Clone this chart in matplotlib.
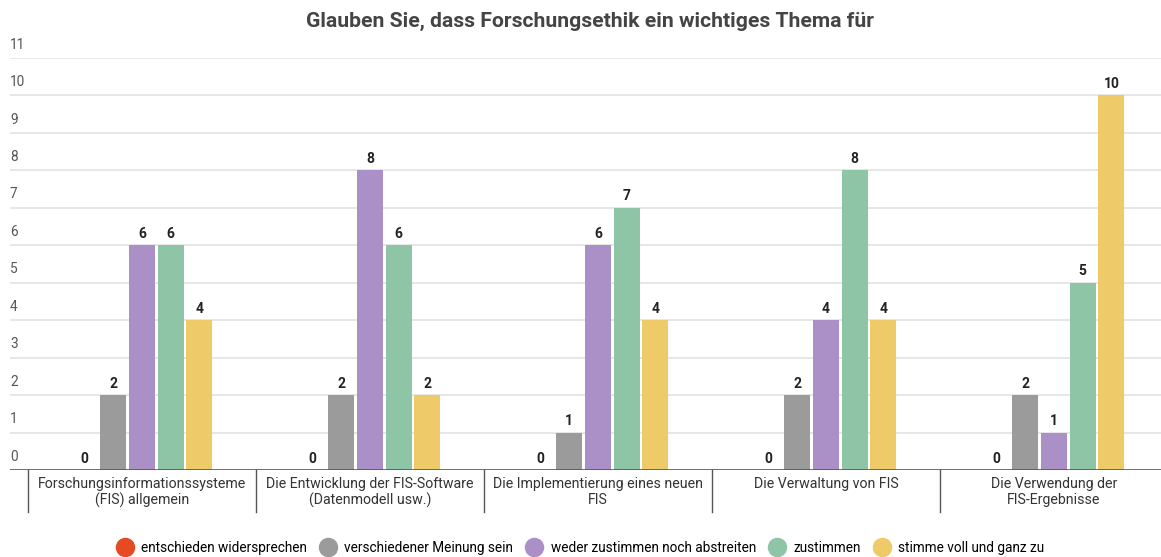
import matplotlib.pyplot as plt
import numpy as np
from matplotlib.lines import Line2D

plt.rcParams['font.family'] = ['Roboto', 'DejaVu Sans']

# Daten
categories = [
    "Forschungsinformationssysteme\n(FIS) allgemein",
    "Die Entwicklung der FIS-Software\n(Datenmodell usw.)",
    "Die Implementierung eines neuen\nFIS",
    "Die Verwaltung von FIS",
    "Die Verwendung der\nFIS-Ergebnisse",
]
series_names = [
    "entschieden widersprechen",
    "verschiedener Meinung sein",
    "weder zustimmen noch abstreiten",
    "zustimmen",
    "stimme voll und ganz zu",
]
entschieden = [0, 0, 0, 0, 0]
verschieden = [2, 2, 1, 2, 2]
weder = [6, 8, 6, 4, 1]
zustimmen = [6, 6, 7, 8, 5]
voll = [4, 2, 4, 4, 10]
y_ticks = list(range(0, 12))

colors = ['#e64a22', '#9b9b9b', '#ab8fc7', '#8ec5a7', '#efca68']
values = [entschieden, verschieden, weder, zustimmen, voll]

fig = plt.figure(figsize=(11.61, 5.57), dpi=100)
ax = fig.add_axes([10 / 1161, 1 - 470 / 557, 1 - 10 / 1161, (470 - 58) / 557])

x = np.arange(len(categories))
slot = 0.126
width = 0.114
for i, (vals, col) in enumerate(zip(values, colors)):
    pos = x + (i - 2) * slot
    ax.bar(pos, vals, width=width, color=col, zorder=3)
    for p, v in zip(pos, vals):
        ax.text(p, v + 0.12, str(v), ha='center', va='bottom',
                fontsize=10, fontweight='bold', color='#222222', zorder=4)

ax.set_xlim(-0.579, 4.47)
ax.set_ylim(0, 11)

# Gitterlinien und Y-Beschriftungen
for t in y_ticks[1:]:
    ax.axhline(t, color='#e3e3e3', linewidth=1.2, zorder=1)
for t in y_ticks:
    ax.text(0.0, t + 0.17, str(t), transform=ax.get_yaxis_transform(),
            ha='left', va='bottom', fontsize=9.8, color='#555555', clip_on=False)
ax.axhline(0, color='#555555', linewidth=1.2, zorder=5)

for s in ax.spines.values():
    s.set_visible(False)
ax.set_xticks([])
ax.set_yticks([])

# Trennlinien der Kategorien
for b in np.arange(len(categories)) - 0.5:
    ax.plot([b, b], [0, -1.12], color='#555555', linewidth=1, clip_on=False)
for xi, lab in zip(x, categories):
    ax.text(xi, -0.2, lab, ha='center', va='top', fontsize=10.2,
            color='#333333', linespacing=1.1)

fig.text(0.508, 0.962, "Glauben Sie, dass Forschungsethik ein wichtiges Thema für",
         ha='center', va='center', fontsize=15.2, fontweight='bold', color='#444444')

handles = [Line2D([0], [0], marker='o', linestyle='', markersize=13,
                  markerfacecolor=c, markeredgecolor=c) for c in colors]
fig.legend(handles, series_names, loc='center', bbox_to_anchor=(0.5, 0.016),
           ncol=5, frameon=False, fontsize=9.8, handletextpad=0.6,
           columnspacing=0.95, handlelength=1.2)

plt.savefig('out.png', dpi=100)
